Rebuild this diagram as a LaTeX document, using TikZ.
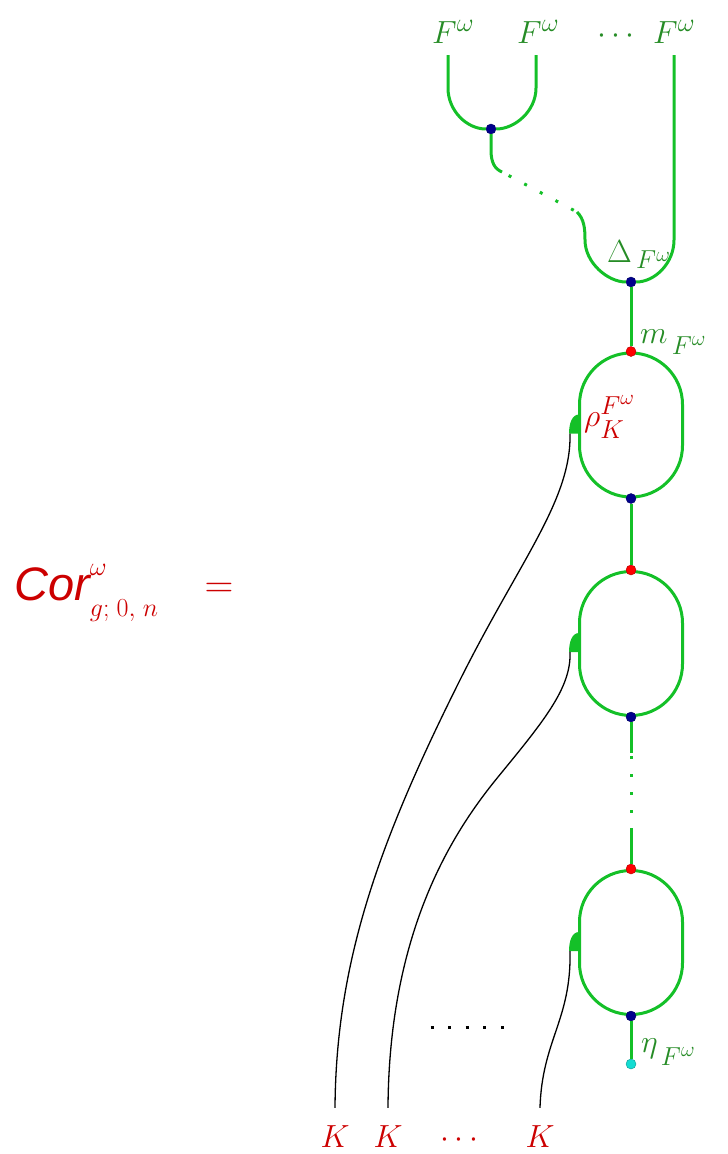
\documentclass[tikz,border=0pt]{standalone}
\usepackage{fix-cm}
\usepackage{amsmath,amssymb}
\usepackage{fontspec}
\newfontfamily\corfont{Liberation Sans}
\usepackage{xcolor}
\usepackage{tikz}
\usetikzlibrary{calc,positioning}
\DeclareMathSizes{32}{32}{26}{21}
\definecolor{strandgreen}{RGB}{20,192,40}
\definecolor{labelgreen}{RGB}{38,140,38}
\definecolor{labelred}{RGB}{204,0,0}
\definecolor{dotnavy}{RGB}{0,0,140}
\definecolor{dotred}{RGB}{255,0,0}
\definecolor{dotcyan}{RGB}{20,220,210}

\begin{document}
\begin{tikzpicture}[x=1pt, y=-1pt, every node/.style={font=\fontsize{32}{36}\selectfont, inner sep=0pt},
  gline/.style={draw=strandgreen, line width=3pt},
  gdots/.style={draw=strandgreen, line width=3pt, dash pattern=on 3pt off 15pt},
  kdots/.style={draw=black, line width=3pt, dash pattern=on 3pt off 14.6pt},
  wire/.style={draw=black, line width=1.3pt},
  loopbox/.style={draw=strandgreen, line width=3pt, rounded corners=51.5pt, minimum width=103pt, minimum height=144pt},
  vdot/.style={circle, minimum size=10pt, draw=#1!70!black, line width=0.4pt, fill=#1},
  glabel/.style={text=labelgreen, anchor=base west},
  rlabel/.style={text=labelred, anchor=base west},
  klabel/.style={text=labelred, anchor=base}]
\useasboundingbox (0,0) rectangle (728,1154);
% labels
\node[rlabel] (cor) at (14,600) {$\text{\fontsize{47}{50}\selectfont\corfont\itshape Cor\strut}^{\omega}_{g;\;0,\;n}$};
\node[text=labelred, font=\fontsize{40}{42}\selectfont] (eq) at (219,590) {$=$};
\node[glabel] (f1) at (432,43) {$F^{\omega}$};
\node[glabel] (f2) at (517,43) {$F^{\omega}$};
\node[glabel] (fdots) at (597,43) {$\cdots$};
\node[glabel] (f3) at (653,43) {$F^{\omega}$};
\node[klabel] (k1) at (335,1147) {$K$};
\node[klabel] (k2) at (388,1147) {$K$};
\node[klabel] (kdotsl) at (462,1147) {$\cdots$};
\node[klabel] (k3) at (540,1147) {$K$};
\node[glabel] (dlab) at (607,262) {$\Delta_{\,F^{\omega}}$};
\node[glabel] (mlab) at (640,343) {$m_{\,\raisebox{-7pt}{$\scriptstyle F^{\omega}$}}$};
\node[rlabel] (rholab) at (584,426) {$\rho^{F^{\omega}}_{\raisebox{-5pt}{$\scriptstyle K$}}$};
\node[glabel] (etalab) at (641,1052) {$\eta_{\,\raisebox{-9pt}{$\scriptstyle F^{\omega}$}}$};
% loops and vertices
\node[loopbox] (loop1) at (631,425) {};
\node[loopbox] (loop2) at (631,643.5) {};
\node[loopbox] (loop3) at (631,942.5) {};
\node[vdot=dotnavy] (mu) at (491,129) {};
\node[vdot=dotnavy] (delta) at (631,282) {};
\node[vdot=dotred] (m1) at (loop1.north) {};
\node[vdot=dotnavy] (n1) at (loop1.south) {};
\node[vdot=dotred] (m2) at (loop2.north) {};
\node[vdot=dotnavy] (n2) at (loop2.south) {};
\node[vdot=dotred] (m3) at (loop3.north) {};
\node[vdot=dotnavy] (n3) at (loop3.south) {};
\node[vdot=dotcyan] (eta) at (631,1064) {};
\coordinate (t1) at (448,55);
\coordinate (t2) at (536,55);
\coordinate (t3) at (674,55);
\coordinate (d1) at (502,172);
\coordinate (d2) at (577,212);
\coordinate (v1) at (631,753);
\coordinate (v2) at (631,831);
\coordinate (b1) at (430.5,1027);
\coordinate (b2) at (505,1027);
% hooks of the actions
\fill[strandgreen] ($(loop1.north west)+(1,63)$) .. controls +(-7,0) and +(0,-10) .. ($(loop1.north west)+(-9,82)$) -- ($(loop1.north west)+(1,82)$) -- cycle;
\fill[strandgreen] ($(loop2.north west)+(1,63)$) .. controls +(-7,0) and +(0,-10) .. ($(loop2.north west)+(-9,82)$) -- ($(loop2.north west)+(1,82)$) -- cycle;
\fill[strandgreen] ($(loop3.north west)+(1,63)$) .. controls +(-7,0) and +(0,-10) .. ($(loop3.north west)+(-9,82)$) -- ($(loop3.north west)+(1,82)$) -- cycle;
\coordinate (h1) at ($(loop1.north west)+(-8,82)$);
\coordinate (h2) at ($(loop2.north west)+(-8,82)$);
\coordinate (h3) at ($(loop3.north west)+(-8,82)$);
% green strands
\draw[gline] (t1) -- (448,88) .. controls (448,111) and (467,129) .. (mu);
\draw[gline] (t2) -- (536,88) .. controls (536,111) and (515,129) .. (mu);
\draw[gline] (mu) -- (491,150) .. controls (491,163) and (495,169) .. (d1);
\draw[gdots, dash pattern=on 3pt off 14.7pt, dash phase=10.2pt] (d1) -- (d2);
\draw[gline] (d2) .. controls (584,219) and (585,228) .. (585,240) .. controls (585,263) and (608,282) .. (delta);
\draw[gline] (t3) -- (674,240) .. controls (674,263) and (655,282) .. (delta);
\draw[gline] (delta) -- (m1);
\draw[gline] (n1) -- (m2);
\draw[gline] (n2) -- (v1);
\draw[gdots, dash phase=15pt] (v1) -- (v2);
\draw[gline] (v2) -- (m3);
\draw[gline] (n3) -- (eta);
% K wires
\draw[wire] (h1) .. controls (571.5,500) and (520,560) .. (460,680) .. controls (380,840) and (336,960) .. ([yshift=17pt]k1.north);
\draw[wire] (h2) .. controls (571.5,688) and (543,722) .. (498,777) .. controls (453,832) and (389,930) .. ([yshift=17pt]k2.north);
\draw[wire] (h3) .. controls (571.5,1020) and (542,1040) .. ([yshift=17pt]k3.north);
\draw[kdots] (b1) -- (b2);
\end{tikzpicture}
\end{document}
